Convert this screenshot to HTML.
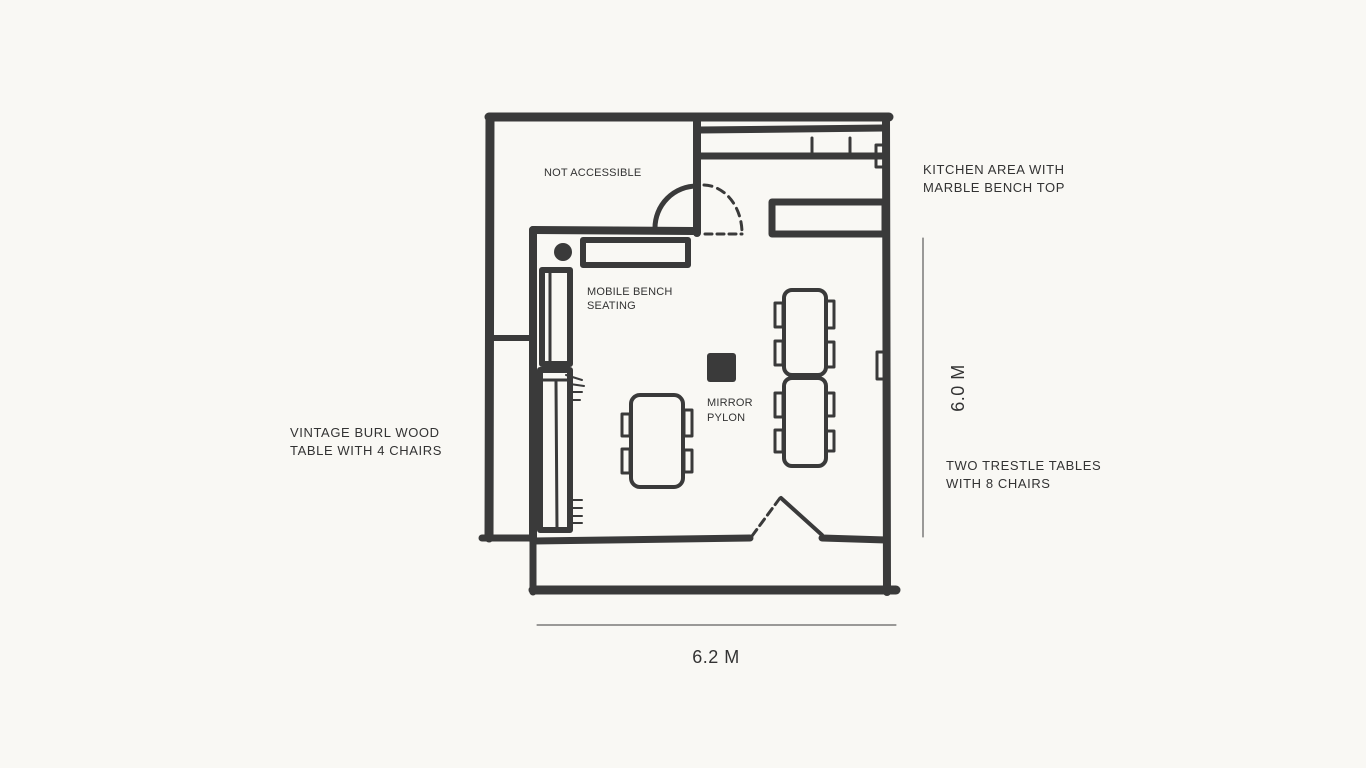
<!DOCTYPE html>
<html><head><meta charset="utf-8"><style>
html,body{margin:0;padding:0;background:#f9f8f4;}
svg{display:block}
text{font-family:"Liberation Sans",sans-serif;fill:#333;}
</style></head><body>
<svg width="1366" height="768" viewBox="0 0 1366 768" xmlns="http://www.w3.org/2000/svg">
<rect width="1366" height="768" fill="#f9f8f4"/>
<g stroke="#3a3a3a" fill="none" stroke-linecap="round" stroke-linejoin="round">
 <path d="M489 117 L889 117" stroke-width="9"/>
 <path d="M490 117 L489 538" stroke-width="9"/>
 <path d="M886 118 L887 592" stroke-width="8"/>
 <path d="M482 538 L533 538" stroke-width="7"/>
 <path d="M533 590 L896 590" stroke-width="9"/>
 <path d="M533 538 L533 592" stroke-width="7"/>
 <path d="M533 541 L750 538" stroke-width="7"/>
 <path d="M822 538 L886 540" stroke-width="7"/>
 <path d="M533 230 L533 540" stroke-width="8"/>
 <path d="M533 230 L693 231" stroke-width="8"/>
 <path d="M697 118 L697 233" stroke-width="8"/>
 <path d="M490 338 L530 338" stroke-width="6"/>
 <path d="M700 130 L884 128" stroke-width="7"/>
 <path d="M700 156 L884 156" stroke-width="7"/>
 <path d="M812 138 L812 155 M850 138 L850 155" stroke-width="3"/>
 <rect x="876" y="145" width="9" height="22" stroke-width="3"/>
 <rect x="772" y="202" width="113" height="32" stroke-width="7"/>
 <path d="M655 228 A42 42 0 0 1 697 186" stroke-width="5"/>
 <path d="M704 185 A39 48 0 0 1 742 233" stroke-width="3" stroke-dasharray="8 6"/>
 <path d="M705 234 L742 234" stroke-width="3" stroke-dasharray="7 5"/>
 <path d="M752 536 L780 498" stroke-width="3" stroke-dasharray="8 5"/>
 <path d="M781 498 L822 535" stroke-width="4"/>
 <rect x="583" y="240" width="105" height="25" stroke-width="6"/>
 <rect x="542" y="270" width="28" height="94" stroke-width="6"/>
 <path d="M550 270 L550 364" stroke-width="3"/>
 <rect x="540" y="370" width="30" height="160" stroke-width="6"/>
 <path d="M540 380 L570 380" stroke-width="3"/>
 <path d="M556 382 L557 530" stroke-width="3"/>
 <path d="M566 375 L582 380 M570 384 L584 386 M570 392 L582 392 M570 400 L580 400" stroke-width="2"/>
 <path d="M570 500 L582 500 M570 508 L582 508 M570 516 L582 516 M570 523 L582 523" stroke-width="2"/>
 <rect x="877" y="352" width="9" height="27" stroke-width="3"/>
 <rect x="631" y="395" width="52" height="92" rx="9" stroke-width="4"/>
 <rect x="622" y="414" width="8" height="22" stroke-width="3"/>
 <rect x="622" y="449" width="8" height="24" stroke-width="3"/>
 <rect x="684" y="410" width="8" height="26" stroke-width="3"/>
 <rect x="684" y="450" width="8" height="22" stroke-width="3"/>
 <rect x="784" y="290" width="42" height="85" rx="8" stroke-width="4"/>
 <rect x="784" y="378" width="42" height="88" rx="8" stroke-width="4"/>
 <rect x="775" y="303" width="8" height="24" stroke-width="3"/>
 <rect x="775" y="341" width="8" height="24" stroke-width="3"/>
 <rect x="826" y="301" width="8" height="27" stroke-width="3"/>
 <rect x="826" y="342" width="8" height="25" stroke-width="3"/>
 <rect x="775" y="393" width="8" height="24" stroke-width="3"/>
 <rect x="775" y="430" width="8" height="22" stroke-width="3"/>
 <rect x="826" y="393" width="8" height="23" stroke-width="3"/>
 <rect x="826" y="431" width="8" height="20" stroke-width="3"/>
 <path d="M923 238 L923 537 M537 625 L896 625" stroke-width="1"/>
</g>
<circle cx="563" cy="252" r="9" fill="#3a3a3a"/>
<rect x="707" y="353" width="29" height="29" rx="3" fill="#3a3a3a"/>
<g font-size="11" letter-spacing="0.2">
<text x="544" y="176">NOT ACCESSIBLE</text>
<text x="587" y="295">MOBILE BENCH</text>
<text x="587" y="309">SEATING</text>
<text x="707" y="406">MIRROR</text>
<text x="707" y="421">PYLON</text>
</g>
<g font-size="13" letter-spacing="0.6">
<text x="923" y="174">KITCHEN AREA WITH</text>
<text x="923" y="192">MARBLE BENCH TOP</text>
<text x="290" y="437">VINTAGE BURL WOOD</text>
<text x="290" y="455">TABLE WITH 4 CHAIRS</text>
<text x="946" y="470">TWO TRESTLE TABLES</text>
<text x="946" y="488">WITH 8 CHAIRS</text>
</g>
<text x="716" y="663" font-size="18" text-anchor="middle" letter-spacing="0.5">6.2 M</text>
<text transform="translate(964,388) rotate(-90)" font-size="18" text-anchor="middle" letter-spacing="0.5">6.0 M</text>
</svg>
</body></html>
